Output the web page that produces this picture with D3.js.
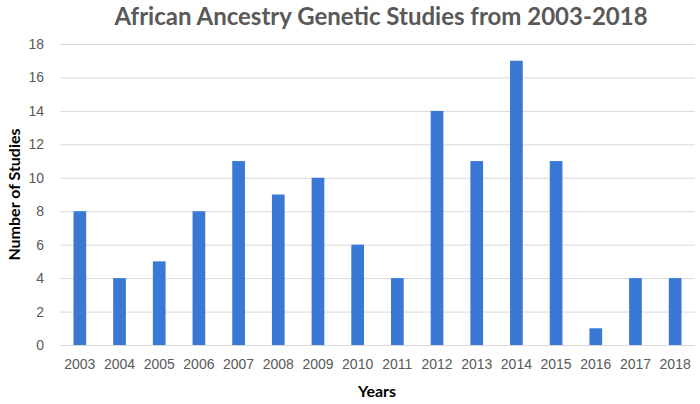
<!DOCTYPE html>
<html>
<head>
<meta charset="utf-8">
<script src="https://cdn.jsdelivr.net/npm/d3@7"></script>
<style>
  body { margin: 0; background: #fff; }
  svg { display: block; font-family: Lato, "Open Sans", sans-serif; }
</style>
</head>
<body>
<div class="graphique"></div>
<script>
const years = ["2003", "2004", "2005", "2006", "2007", "2008", "2009", "2010",
    "2011", "2012", "2013", "2014", "2015", "2016", "2017", "2018"];
const studies = [8, 4, 5, 8, 11, 9, 10, 6, 4, 14, 11, 17, 11, 1, 4, 4];
const yTicks = [0, 2, 4, 6, 8, 10, 12, 14, 16, 18];

const width = 700;
const height = 404;
const margin = { top: 44, right: 5, bottom: 59, left: 60 };

const svg = d3.select(".graphique")
    .append("svg")
    .attr("width", width)
    .attr("height", height);

const xScale = d3.scaleBand()
    .domain(years)
    .range([margin.left, width - margin.right])
    .paddingInner(0.68)
    .paddingOuter(0.34);

const yScale = d3.scaleLinear()
    .domain([0, 18])
    .range([height - margin.bottom, margin.top]);

// gridlines
svg.append("g")
    .selectAll("line")
    .data(yTicks)
    .enter().append("line")
    .attr("x1", margin.left)
    .attr("x2", width - margin.right)
    .attr("y1", d => yScale(d) + 0.5)
    .attr("y2", d => yScale(d) + 0.5)
    .attr("stroke", "#d9d9d9")
    .attr("stroke-width", 1);

// bars
svg.append("g")
    .selectAll("rect")
    .data(studies)
    .enter().append("rect")
    .attr("x", (d, i) => xScale(years[i]))
    .attr("y", d => yScale(d))
    .attr("width", xScale.bandwidth())
    .attr("height", d => yScale(0) - yScale(d))
    .attr("fill", "#3a78d6");

// y axis labels
const yAxis = svg.append("g")
    .attr("transform", `translate(${margin.left},0)`)
    .call(d3.axisLeft(yScale).tickValues(yTicks).tickSize(0).tickPadding(16));
yAxis.select(".domain").remove();
yAxis.selectAll("text")
    .attr("fill", "#595959")
    .style("font-size", "14px");

// x axis labels
const xAxis = svg.append("g")
    .attr("transform", `translate(0,${yScale(0)})`)
    .call(d3.axisBottom(xScale).tickSize(0).tickPadding(14));
xAxis.select(".domain").remove();
xAxis.selectAll("text")
    .attr("fill", "#595959")
    .style("font-size", "14px");

// title
svg.append("text")
    .attr("x", 381)
    .attr("y", 25)
    .attr("text-anchor", "middle")
    .attr("fill", "#595959")
    .style("font-size", "24px")
    .style("font-weight", "bold")
    .text("African Ancestry Genetic Studies from 2003-2018");

// axis titles
svg.append("text")
    .attr("x", 377)
    .attr("y", 397)
    .attr("text-anchor", "middle")
    .attr("fill", "#000")
    .style("font-size", "16px")
    .style("font-weight", "bold")
    .text("Years");

svg.append("text")
    .attr("transform", `translate(20,${(margin.top + yScale(0)) / 2}) rotate(-90)`)
    .attr("text-anchor", "middle")
    .attr("fill", "#000")
    .style("font-size", "16px")
    .style("font-weight", "bold")
    .text("Number of Studies");
</script>
</body>
</html>
